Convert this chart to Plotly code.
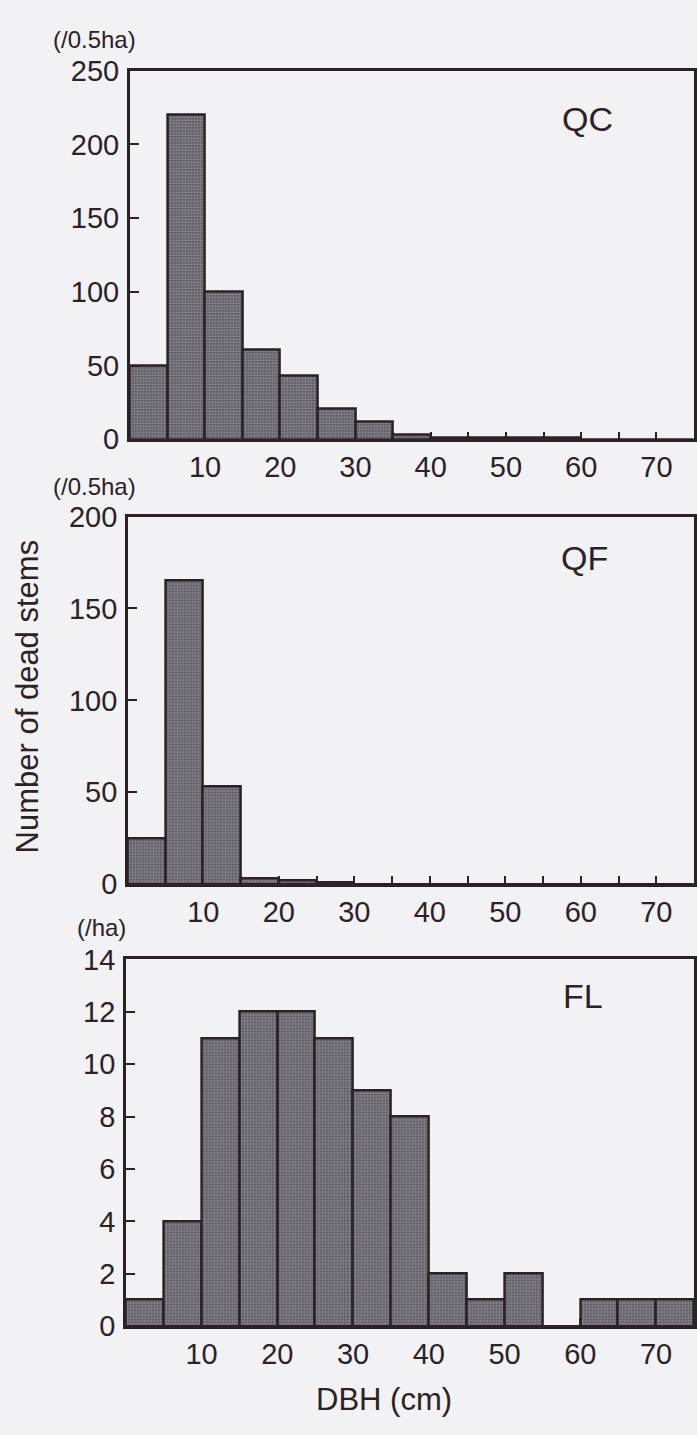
import plotly.graph_objects as go

# DBH class lower bounds (cm), 5-cm classes
dbh_class_start = [0, 5, 10, 15, 20, 25, 30, 35, 40, 45, 50, 55, 60, 65, 70]
class_width = 5

# Number of dead stems per DBH class
qc_counts = [50, 220, 100, 61, 43, 21, 12, 3, 1, 1, 1, 1, 0, 0, 0]   # /0.5ha
qf_counts = [25, 165, 53, 3, 2, 1, 0, 0, 0, 0, 0, 0, 0, 0, 0]        # /0.5ha
fl_counts = [1, 4, 11, 12, 12, 11, 9, 8, 2, 1, 2, 0, 1, 1, 1]        # /ha

panel_names = ["QC", "QF", "FL"]
unit_labels = ["(/0.5ha)", "(/0.5ha)", "(/ha)"]
y_ranges = [[0, 250], [0, 200], [0, 14]]
y_tick_vals = [[0, 50, 100, 150, 200, 250], [0, 50, 100, 150, 200], [0, 2, 4, 6, 8, 10, 12, 14]]
x_tick_vals = [5, 10, 15, 20, 25, 30, 35, 40, 45, 50, 55, 60, 65, 70]
x_tick_text = ["", "10", "", "20", "", "30", "", "40", "", "50", "", "60", "", "70"]

W, H = 697, 1435
INK = "#2b2228"
BG = "#f2f1f3"
FONT = "Liberation Sans, Arial, Helvetica, sans-serif"

# pixel boxes (left, right, top, bottom) for each panel
boxes = [(130, 695, 56, 433), (128, 695, 512, 888), (126, 695, 965, 1340)]

fig = go.Figure()
series = [qc_counts, qf_counts, fl_counts]
for i, vals in enumerate(series):
    n = "" if i == 0 else str(i + 1)
    fig.add_trace(go.Bar(
        x=dbh_class_start, y=vals, offset=0, width=class_width,
        xaxis="x" + n, yaxis="y" + n,
        marker=dict(
            color="#5e5560",
            line=dict(color=INK, width=2.5),
            pattern=dict(shape=".", bgcolor="#514854", fgcolor="#c4d2d0",
                         size=3, solidity=0.55),
        ),
        showlegend=False, hoverinfo="skip",
    ))

layout = dict(
    width=W, height=H, margin=dict(l=0, r=0, t=0, b=0),
    paper_bgcolor=BG, plot_bgcolor=BG,
    font=dict(family=FONT, color=INK, size=29),
    bargap=0,
)
for i, (l, r, t, b) in enumerate(boxes):
    n = "" if i == 0 else str(i + 1)
    layout["xaxis" + n] = dict(
        domain=[l / W, r / W], range=[0, 75], anchor="y" + n,
        tickmode="array", tickvals=x_tick_vals, ticktext=x_tick_text,
        ticks="inside", ticklen=8, tickwidth=2, tickcolor=INK,
        showline=True, linecolor=INK, linewidth=2.5, mirror=True,
        showgrid=False, zeroline=False, layer="below traces",
        tickfont=dict(size=29, family=FONT, color=INK),
        ticklabelstandoff=0, fixedrange=True,
    )
    layout["yaxis" + n] = dict(
        domain=[1 - b / H, 1 - t / H], range=y_ranges[i], anchor="x" + n,
        tickmode="array", tickvals=y_tick_vals[i],
        ticks="inside", ticklen=9, tickwidth=2, tickcolor=INK,
        showline=True, linecolor=INK, linewidth=2.5, mirror=True,
        showgrid=False, zeroline=False,
        tickfont=dict(size=29, family=FONT, color=INK),
        ticklabelstandoff=2, fixedrange=True,
    )
fig.update_layout(**layout)

annotations = []
label_pos = [(588, 105), (585, 554), (584, 1002)]
unit_pos = [(95, 24), (95, 481), (102, 932)]
for i in range(3):
    annotations.append(dict(
        x=label_pos[i][0] / W, y=1 - label_pos[i][1] / H, xref="paper", yref="paper",
        text=panel_names[i], showarrow=False, xanchor="center", yanchor="middle",
        font=dict(size=34, family=FONT, color=INK)))
    annotations.append(dict(
        x=unit_pos[i][0] / W, y=1 - unit_pos[i][1] / H, xref="paper", yref="paper",
        text=unit_labels[i], showarrow=False, xanchor="center", yanchor="middle",
        font=dict(size=24, family=FONT, color=INK)))
annotations.append(dict(
    x=28 / W, y=1 - 696 / H, xref="paper", yref="paper", text="Number of dead stems",
    textangle=-90, showarrow=False, xanchor="center", yanchor="middle",
    font=dict(size=31, family=FONT, color=INK)))
annotations.append(dict(
    x=385 / W, y=1 - 1415 / H, xref="paper", yref="paper", text="DBH (cm)",
    showarrow=False, xanchor="center", yanchor="middle",
    font=dict(size=31, family=FONT, color=INK)))
fig.update_layout(annotations=annotations)

fig.write_html(
    "out.html",
    config={"displayModeBar": False},
    post_script="document.body.style.margin='0';document.body.style.padding='0';"
                "document.body.style.overflow='hidden';"
                "document.body.style.background='" + BG + "';",
)
